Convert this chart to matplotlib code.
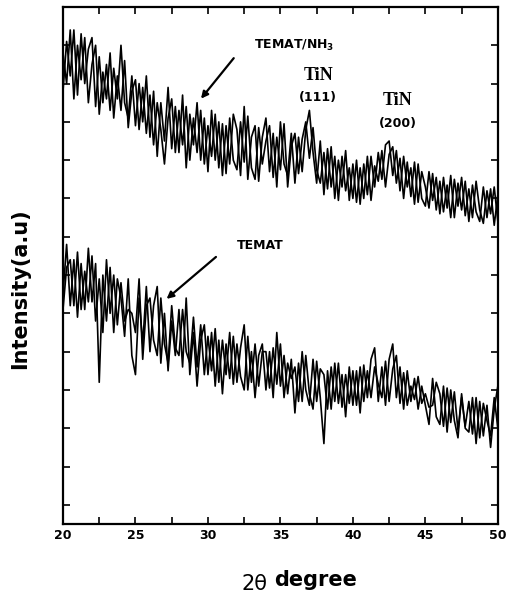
import matplotlib

matplotlib.use('Agg')
import matplotlib.pyplot as plt
import numpy as np
from matplotlib.ticker import MultipleLocator

# 2-theta grid (degrees), 0.25 deg steps
two_theta = np.arange(20, 50.001, 0.25)

# TEMAT/NH3 film, two overlapping scans (counts, arbitrary)
nh3_scan_a = [
    1130, 1260, 1170, 1290, 1120, 1280, 1150, 1240,
    1270, 1090, 1220, 1100, 1200, 1080, 1190, 1110,
    1250, 1100, 1060, 1170, 1040, 1150, 1050, 1170,
    1010, 1130, 960, 1100, 1000, 1140, 980, 1090,
    970, 1120, 930, 1070, 990, 1100, 950, 1060,
    920, 1080, 950, 1050, 910, 1040, 940, 1070,
    1030, 910, 1090, 900, 1010, 1040, 895, 1010,
    1060, 920, 1020, 880, 1050, 940, 910, 1020,
    890, 1010, 920, 1030, 1080, 970, 890, 1000,
    860, 980, 880, 960, 845, 960, 870, 930,
    850, 950, 835, 940, 860, 960, 880, 970,
    900, 990, 1000, 910, 975, 870, 960, 880,
    930, 835, 940, 850, 830, 920, 845, 905,
    810, 905, 825, 910, 800, 890, 820, 895,
    790, 885, 815, 790, 880, 800, 875, 780,
    860,
]
nh3_scan_b = [
    1230, 1150, 1290, 1110, 1250, 1160, 1270, 1100,
    1200, 1250, 1070, 1180, 1110, 1230, 1060, 1170,
    1080, 1210, 1035, 1130, 1160, 1030, 1140, 1020,
    1120, 990, 1100, 1030, 940, 1060, 1110, 970,
    1080, 990, 1090, 950, 1060, 970, 1080, 940,
    1040, 960, 1070, 930, 1045, 915, 1060, 950,
    925, 1050, 945, 1065, 930, 900, 1035, 940,
    1000, 1040, 905, 1010, 925, 1045, 880, 985,
    1020, 915, 1005, 1050, 955, 1035, 925, 890,
    970, 875, 985, 850, 950, 880, 975, 845,
    940, 840, 930, 850, 960, 845, 935, 895,
    975, 880, 965, 985, 890, 955, 850, 945,
    855, 945, 840, 920, 880, 825, 915, 820,
    895, 815, 885, 800, 900, 830, 905, 805,
    875, 800, 895, 820, 785, 870, 810, 880,
    790,
]

# TEMAT film, two overlapping scans
temat_scan_a = [
    600, 730, 570, 690, 540, 680, 560, 720,
    580, 680, 370, 650, 530, 670, 500, 640,
    590, 490, 640, 440, 390, 590, 470, 620,
    450, 570, 620, 420, 550, 400, 530, 440,
    560, 410, 590, 390, 500, 360, 480, 520,
    390, 500, 360, 480, 340, 470, 380, 490,
    370, 460, 520, 350, 450, 330, 440, 470,
    350, 450, 330, 500, 360, 440, 340, 430,
    290, 420, 320, 440, 340, 300, 425, 330,
    210, 400, 300, 420, 315, 390, 280, 410,
    310, 400, 290, 415, 330, 430, 460, 320,
    410, 310, 430, 470, 330, 410, 300, 400,
    320, 380, 300, 360, 310, 260, 380, 280,
    260, 360, 240, 350, 270, 225, 340, 250,
    240, 330, 210, 320, 230, 310, 200, 300,
    360,
]
temat_scan_b = [
    560, 670, 690, 570, 710, 560, 660, 580,
    700, 530, 640, 500, 690, 550, 650, 520,
    630, 530, 560, 550, 500, 640, 430, 570,
    590, 480, 440, 590, 470, 420, 570, 460,
    440, 560, 450, 420, 540, 410, 520, 390,
    490, 400, 510, 370, 480, 390, 500, 365,
    470, 385, 350, 490, 370, 470, 360, 450,
    450, 355, 460, 365, 470, 330, 420, 380,
    410, 320, 450, 350, 310, 430, 320, 405,
    390, 300, 410, 320, 420, 305, 390, 315,
    400, 310, 410, 320, 400, 330, 410, 365,
    330, 425, 320, 405, 440, 315, 395, 310,
    360, 325, 385, 315, 340, 305, 310, 370,
    340, 255, 355, 265, 345, 245, 330, 255,
    320, 235, 330, 225, 315, 270, 230, 330,
    250,
]

x_ticks = [20, 25, 30, 35, 40, 45, 50]


def main():
    fig = plt.figure(figsize=(5.08, 6.02), dpi=100)
    ax = fig.add_axes([0.124, 0.1296, 0.856, 0.8588])

    for scan in (nh3_scan_a, nh3_scan_b, temat_scan_a, temat_scan_b):
        ax.plot(two_theta, scan, color='black', lw=1.2)

    ax.set_xlim(20, 50)
    ax.set_ylim(0, 1350)
    ax.set_xticks(x_ticks)
    ax.xaxis.set_minor_locator(MultipleLocator(2.5))
    ax.set_yticks(np.arange(50, 1351, 100))
    ax.set_yticklabels([])
    ax.tick_params(which='both', direction='in', length=5, width=1.2,
                   top=True, right=True, labelsize=9)
    for lab in ax.get_xticklabels():
        lab.set_fontweight('bold')
    for sp in ax.spines.values():
        sp.set_linewidth(1.6)

    # annotations
    ax.text(33.2, 1250, 'TEMAT/NH$_\\mathbf{3}$', fontsize=9, fontweight='bold',
            ha='left', va='center')
    ax.annotate('', xy=(29.4, 1105), xytext=(31.9, 1222),
                arrowprops=dict(arrowstyle='-|>', color='black', lw=1.6))
    ax.text(37.6, 1172, 'TiN', fontsize=13, family='Liberation Serif',
            fontweight='bold', ha='center', va='center')
    ax.text(37.6, 1114, '(111)', fontsize=9, fontweight='bold',
            ha='center', va='center')
    ax.text(43.1, 1107, 'TiN', fontsize=13, family='Liberation Serif',
            fontweight='bold', ha='center', va='center')
    ax.text(43.1, 1047, '(200)', fontsize=9, fontweight='bold',
            ha='center', va='center')
    ax.text(33.6, 728, 'TEMAT', fontsize=9, fontweight='bold',
            ha='center', va='center')
    ax.annotate('', xy=(27.0, 583), xytext=(30.7, 702),
                arrowprops=dict(arrowstyle='-|>', color='black', lw=1.6))

    # x label: "2θ" light, "degree" bold
    fig.text(0.527, 0.030, '2θ', fontsize=15, ha='right', va='center')
    fig.text(0.540, 0.036, 'degree', fontsize=15, fontweight='bold',
             ha='left', va='center')
    fig.text(0.04, 0.52, 'Intensity(a.u)', fontsize=15, fontweight='bold',
             rotation=90, ha='center', va='center')

    fig.savefig('out.png', dpi=100)


if __name__ == '__main__':
    main()
